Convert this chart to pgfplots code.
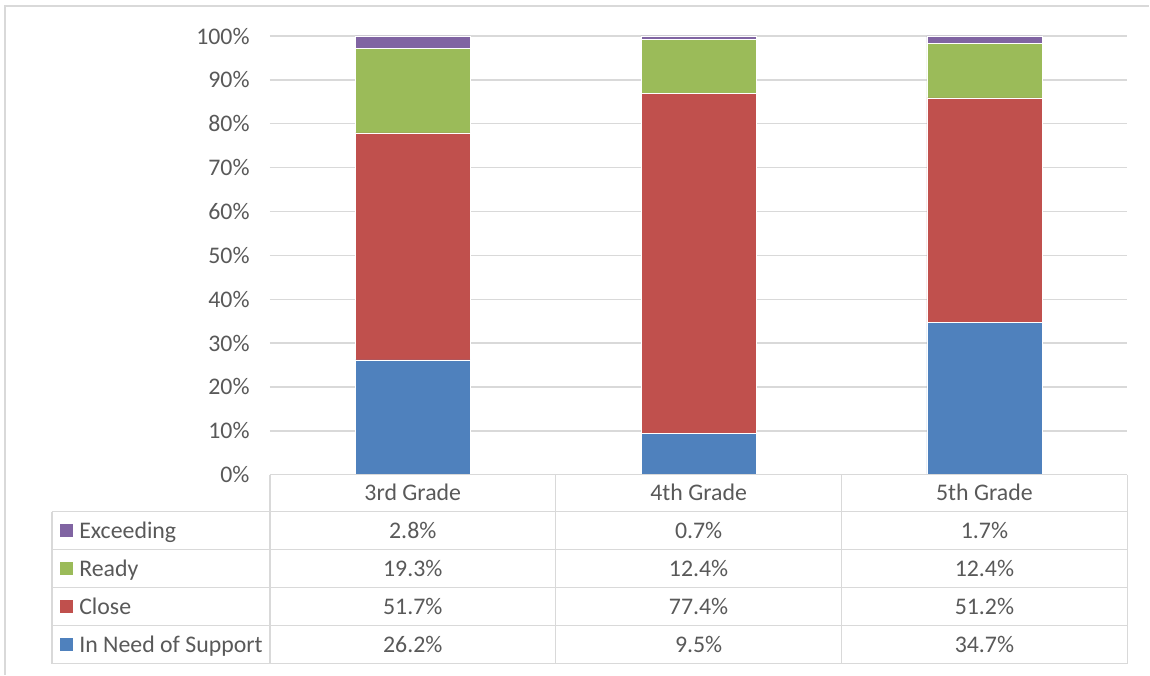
\documentclass[border=0pt]{standalone}
\usepackage{pgfplots}
\pgfplotsset{compat=1.18}
\usepackage{pgfplotstable}
\usepackage{fontspec}
\setmainfont{Carlito}
\definecolor{cneed}{HTML}{4F81BD}
\definecolor{cclose}{HTML}{C0504D}
\definecolor{cready}{HTML}{9BBB59}
\definecolor{cexc}{HTML}{8064A2}
\definecolor{txt}{HTML}{595959}
\definecolor{gridc}{HTML}{D9D9D9}

% grade, in need of support, close, ready, exceeding
\pgfplotstableread{
x need close ready exc
0 26.2 51.7 19.3 2.8
1 9.5 77.4 12.4 0.7
2 34.7 51.2 12.4 1.7
}\scores

\begin{document}
\begin{tikzpicture}[x=0.6pt,y=0.6pt,font=\fontsize{14.3}{16}\selectfont\color{txt}]
\path (0,0) rectangle (1150,675);
% outer frame
\draw[gridc, line width=0.8pt] (5,0) -- (5,669) -- (1150,669);
\begin{axis}[
    at={(162pt,120pt)}, anchor=south west,
    scale only axis,
    width=514.8pt, height=263.4pt,
    ybar stacked,
    bar width=69pt,
    xmin=-0.5, xmax=2.5,
    ymin=0, ymax=100,
    ytick={0,10,...,100},
    yticklabel={\pgfmathprintnumber{\tick}\%},
    yticklabel style={anchor=east, inner sep=0pt, xshift=-12pt, text=txt},
    /pgf/number format/assume math mode=true,
    xtick=\empty,
    ymajorgrids,
    grid style={gridc, line width=0.8pt},
    axis line style={draw=none},
    major tick length=0pt,
    every axis plot/.append style={draw=white, line width=0.3pt},
]
\addplot[fill=cneed] table[x=x,y=need] {\scores};
\addplot[fill=cclose] table[x=x,y=close] {\scores};
\addplot[fill=cready] table[x=x,y=ready] {\scores};
\addplot[fill=cexc] table[x=x,y=exc] {\scores};
\end{axis}
% data table
\begin{scope}[draw=gridc, line width=0.9pt]
\draw (270,200) -- (1128,200);
\draw (52,163) -- (1128,163);
\draw (52,125) -- (1128,125);
\draw (52,87) -- (1128,87);
\draw (52,49) -- (1128,49);
\draw (52,11) -- (1128,11);
\draw (52,163) -- (52,11);
\draw (270,200) -- (270,11);
\draw (556,200) -- (556,11);
\draw (842,200) -- (842,11);
\draw (1128,200) -- (1128,11);
\end{scope}
\begin{scope}[every node/.style={anchor=base}]
\node at (413,174) {3rd Grade};
\node at (699,174) {4th Grade};
\node at (985,174) {5th Grade};
\fill[cexc] (60,138) rectangle (73,151);
\fill[cready] (60,100) rectangle (73,113);
\fill[cclose] (60,62) rectangle (73,75);
\fill[cneed] (60,24) rectangle (73,37);
\node[anchor=base west, inner sep=0pt] at (79,136) {Exceeding};
\node[anchor=base west, inner sep=0pt] at (79,98) {Ready};
\node[anchor=base west, inner sep=0pt] at (79,60) {Close};
\node[anchor=base west, inner sep=0pt] at (79,22) {In Need of Support};
\node at (413,136) {2.8\%};  \node at (699,136) {0.7\%};  \node at (985,136) {1.7\%};
\node at (413,98) {19.3\%}; \node at (699,98) {12.4\%}; \node at (985,98) {12.4\%};
\node at (413,60) {51.7\%};  \node at (699,60) {77.4\%};  \node at (985,60) {51.2\%};
\node at (413,22) {26.2\%};  \node at (699,22) {9.5\%};   \node at (985,22) {34.7\%};
\end{scope}
\end{tikzpicture}
\end{document}
